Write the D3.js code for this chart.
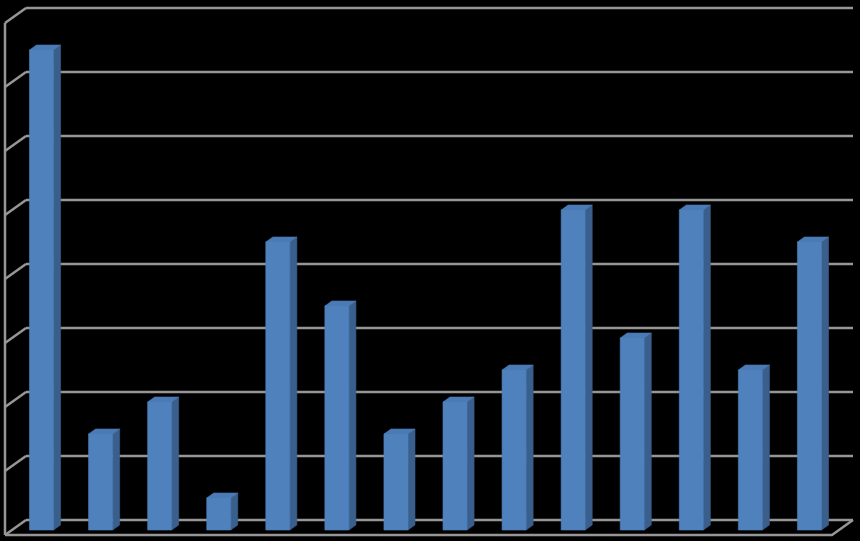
<!DOCTYPE html>
<html><head><meta charset="utf-8">
<script src="https://cdn.jsdelivr.net/npm/d3@7/dist/d3.min.js"></script>
<style>html,body{margin:0;padding:0;background:#000;}svg{display:block;}</style>
</head><body>
<script>
const categories = ["1","2","3","4","5","6","7","8","9","10","11","12","13","14"];
const values = [7.5, 1.5, 2, 0.5, 4.5, 3.5, 1.5, 2, 2.5, 5, 3, 5, 2.5, 4.5];
const tickValues = [0,1,2,3,4,5,6,7,8];

const W = 860, H = 541;
const DX = 21, DY = -15; // depth offset front->back
const svg = d3.select("body").append("svg").attr("width", W).attr("height", H);
svg.append("rect").attr("width", W).attr("height", H).attr("fill", "#000");

const y = d3.scaleLinear().domain([0, 8]).range([535, 23]);
const x = d3.scaleBand().domain(categories).range([5, 832]).paddingInner(0.5925).paddingOuter(0.29625);
const P = (px, py, t) => [px + DX * t, py + DY * t];

const gridColor = "#969696";
const sw = 2.5;
const g = svg.append("g");
tickValues.forEach(v => {
  const a = P(5, y(v), 0), b = P(5, y(v), 1), c = P(832, y(v), 1);
  g.append("line").attr("x1", b[0]).attr("y1", b[1]).attr("x2", c[0]).attr("y2", c[1])
    .attr("stroke", gridColor).attr("stroke-width", sw);
  g.append("line").attr("x1", a[0]).attr("y1", a[1]).attr("x2", b[0]).attr("y2", b[1])
    .attr("stroke", gridColor).attr("stroke-width", sw);
});
g.append("line").attr("x1", 5).attr("y1", y(8)).attr("x2", 5).attr("y2", y(0))
  .attr("stroke", gridColor).attr("stroke-width", sw);
const f1 = P(5, y(0), 0), f2 = P(832, y(0), 0), f3 = P(832, y(0), 1);
g.append("polyline").attr("points", [f1, f2, f3].map(p => p.join(",")).join(" "))
  .attr("fill", "none").attr("stroke", gridColor).attr("stroke-width", sw);

const t0 = 1/3, t1 = 2/3;
const bars = svg.append("g");
categories.forEach((c, i) => {
  const xl = x(c), xr = x(c) + x.bandwidth();
  const yt = y(values[i]), yb = y(0);
  const fBL = P(xl, yb, t0), fBR = P(xr, yb, t0), fTR = P(xr, yt, t0), fTL = P(xl, yt, t0);
  const bTL = P(xl, yt, t1), bTR = P(xr, yt, t1), bBR = P(xr, yb, t1);
  const poly = (pts, fill) => bars.append("polygon")
    .attr("points", pts.map(p => p.join(",")).join(" ")).attr("fill", fill)
    .attr("stroke", fill).attr("stroke-width", 0.6).attr("stroke-linejoin", "miter");
  poly([fBR, fTR, bTR, bBR], "#3a5f8d");
  poly([fTL, fTR, bTR, bTL], "#4b7bb6");
  poly([fBL, fBR, fTR, fTL], "#4f81bd");
});
</script>
</body></html>
